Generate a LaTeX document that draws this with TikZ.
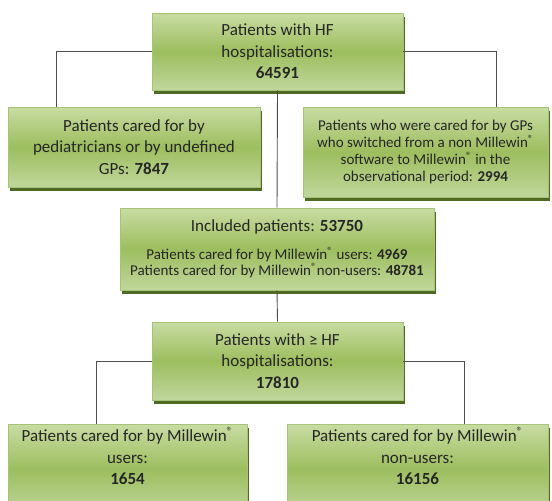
\documentclass[tikz,border=0pt]{standalone}
\usepackage{fontspec}
\setmainfont{Carlito}
\usetikzlibrary{shadows}
\definecolor{boxtop}{HTML}{C8DCA3}
\definecolor{boxmid}{HTML}{9DBE5E}
\definecolor{boxbot}{HTML}{C0D79C}
\definecolor{boxline}{HTML}{A6C377}
\definecolor{boxshadow}{HTML}{4F6A22}
\definecolor{linkgray}{HTML}{4D4D4D}
\definecolor{txtgray}{HTML}{262626}
\newcommand{\regmark}{\textsuperscript{®}}
\begin{document}
\begin{tikzpicture}[x=1pt,y=-1pt,
	flowbox/.style={rectangle, draw=boxline, line width=0.6pt,
		top color=boxtop, bottom color=boxbot, middle color=boxmid,
		drop shadow={shadow xshift=1.5pt, shadow yshift=-3.5pt, fill=boxshadow, opacity=1},
		text=txtgray, align=center, inner sep=0pt, font=\fontsize{17}{21.5}\selectfont},
	link/.style={draw=linkgray, line width=0.9pt}]
	\useasboundingbox (0,0) rectangle (552,501);
	% boxes
	\node[flowbox, minimum width=251pt, minimum height=77pt] (hosp) at (277.5,51.5)
		{Patients with HF\\ hospitalisations:\\ \textbf{64591}};
	\node[flowbox, minimum width=252pt, minimum height=80pt] (peds) at (134,147)
		{Patients cared for by\\ pediatricians or by undefined\\ GPs: \textbf{7847}};
	\node[flowbox, minimum width=245pt, minimum height=90pt, font=\fontsize{15}{17}\selectfont] (switch) at (425.5,152)
		{Patients who were cared for by GPs\\ who switched from a non Millewin\regmark\\ software to Millewin\regmark\ in the\\ observational period: \textbf{2994}};
	\node[flowbox, minimum width=314pt, minimum height=82pt, font=\fontsize{15}{16}\selectfont] (incl) at (277,249)
		{{\fontsize{17}{21.5}\selectfont Included patients: \textbf{53750}}\\[12pt]
		Patients cared for by Millewin\regmark\ users: \textbf{4969}\\
		Patients cared for by Millewin\regmark non-users: \textbf{48781}};
	\node[flowbox, minimum width=251pt, minimum height=78pt] (multi) at (277.5,361)
		{Patients with ≥ HF\\ hospitalisations:\\ \textbf{17810}};
	\node[flowbox, anchor=north, minimum width=239pt, inner ysep=3pt] (users) at (127.5,424)
		{\parbox[t][84pt][t]{232pt}{\centering Patients cared for by Millewin\regmark\\ users:\\ \textbf{1654}}};
	\node[flowbox, anchor=north, minimum width=261pt, inner ysep=3pt] (nonusers) at (417.5,424)
		{\parbox[t][84pt][t]{254pt}{\centering Patients cared for by Millewin\regmark\\ non-users:\\ \textbf{16156}}};
	% connectors
	\draw[link] (hosp.west) -| ([xshift=49pt]peds.north west);
	\draw[link] (hosp.east) -| ([xshift=-52pt]switch.north east);
	\draw[link] (hosp.south) -- (incl.north);
	\draw[link] (incl.south) -- (multi.north);
	\draw[link] (multi.west) -| ([xshift=89pt]users.north west);
	\draw[link] (multi.east) -| ([xshift=-84pt]nonusers.north east);
\end{tikzpicture}
\end{document}
